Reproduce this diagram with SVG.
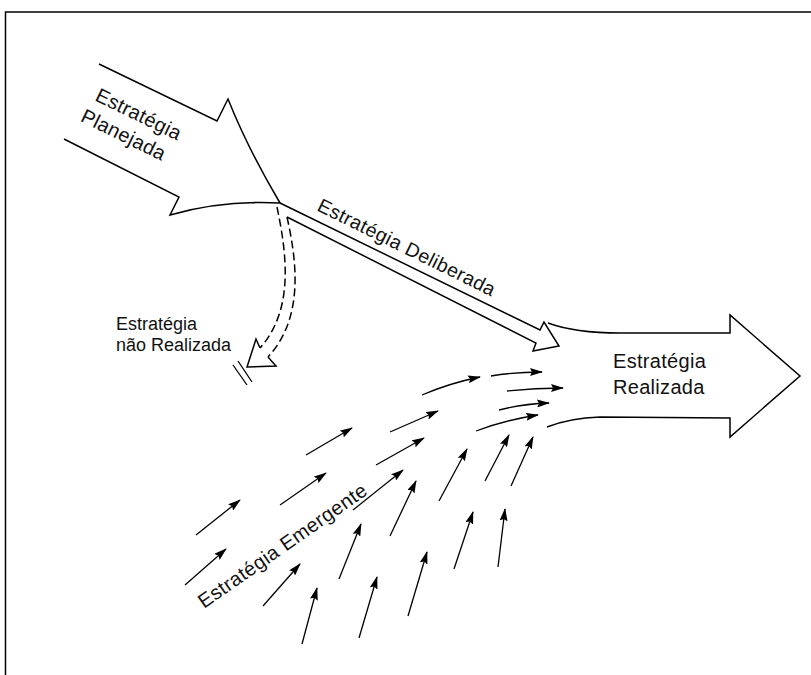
<svg xmlns="http://www.w3.org/2000/svg" width="811" height="675" viewBox="0 0 811 675">
<style>
.outline{fill:#fff;stroke:#000;stroke-width:1.5;stroke-linejoin:miter}
.dash{fill:none;stroke:#000;stroke-width:1.5;stroke-dasharray:8 4}
.em{fill:none;stroke:#000;stroke-width:1.3}
.lbl{font-family:"Liberation Sans",Arial,sans-serif;fill:#111}
</style>
<defs>
<marker id="ah" viewBox="0 0 13 8" refX="12" refY="4" markerWidth="13" markerHeight="8" markerUnits="userSpaceOnUse" orient="auto">
<path d="M0,0 L13,4 L0,8 L2,4 Z" fill="#000"/>
</marker>
</defs>
<rect width="811" height="675" fill="#fff"/>
<path d="M5.5,675 L5.5,12 L811,12" fill="none" stroke="#000" stroke-width="1.5"/>

<g id="planejada">
<path class="outline" d="M99,64 L217,121 L228,99 Q248,149 280,203 Q222,200 170,215 L179,197 L64,139"/>
<text class="lbl" font-size="20" letter-spacing="0.3" transform="translate(94,100) rotate(26)"><tspan x="0" y="0">Estratégia</tspan><tspan x="-4" y="25">Planejada</tspan></text>
</g>

<g id="realizada">
<path class="outline" d="M548,323 Q575,333 620,333 L730,333 L730,315 L800,376 L730,437 L730,418 L600,417 Q570,418 547,427"/>
<text class="lbl" font-size="20" letter-spacing="0.3"><tspan x="613" y="368">Estratégia</tspan><tspan x="613" y="394">Realizada</tspan></text>
</g>

<g id="connectors">
<g id="deliberada">
<path class="outline" d="M280,203 L540,330 L544,322 L559,346 L533,351 L536,343 L287,217"/>
<text class="lbl" font-size="19.5" letter-spacing="0.4" transform="translate(316,210) rotate(26.3)">Estratégia Deliberada</text>
</g>
<g id="nao-realizada">
<path class="dash" d="M277,207 C287,255 294,310 260,348"/>
<path class="dash" d="M287,217 C297,262 304,318 268,357"/>
<path fill="none" stroke="#000" stroke-width="1.5" d="M260,348 L256,339 L247,367 L276,366 L268,357"/>
<path fill="none" stroke="#000" stroke-width="1.3" d="M233,365 L247,385 M238,361 L252,382"/>
<text class="lbl" font-size="18"><tspan x="116" y="330">Estratégia</tspan><tspan x="116" y="351">não Realizada</tspan></text>
</g>
<g id="emergente" marker-end="url(#ah)">
<path class="em" d="M422,395 Q450,383 480,377"/>
<path class="em" d="M491,376 Q515,372 542,372"/>
<path class="em" d="M507,391 Q535,388 563,388"/>
<path class="em" d="M499,410 Q522,404 549,403"/>
<path class="em" d="M476,431 Q505,420 538,415"/>
<path class="em" d="M390,432 L438,411"/>
<path class="em" d="M376,465 L424,438"/>
<path class="em" d="M306,455 L352,428"/>
<path class="em" d="M280,505 L326,473"/>
<path class="em" d="M353,510 L403,470"/>
<path class="em" d="M196,535 L240,500"/>
<path class="em" d="M185,585 L226,549"/>
<path class="em" d="M263,606 L300,564"/>
<path class="em" d="M302,644 L317,588"/>
<path class="em" d="M359,638 L377,577"/>
<path class="em" d="M339,579 L361,524"/>
<path class="em" d="M390,536 L416,481"/>
<path class="em" d="M439,501 L467,449"/>
<path class="em" d="M485,481 L509,435"/>
<path class="em" d="M511,486 L533,437"/>
<path class="em" d="M408,616 L427,552"/>
<path class="em" d="M454,569 L473,512"/>
<path class="em" d="M498,567 L505,509"/>
</g>
<text class="lbl" font-size="20" letter-spacing="0.4" transform="translate(204,609) rotate(-35)">Estratégia Emergente</text>
</g>
</svg>
